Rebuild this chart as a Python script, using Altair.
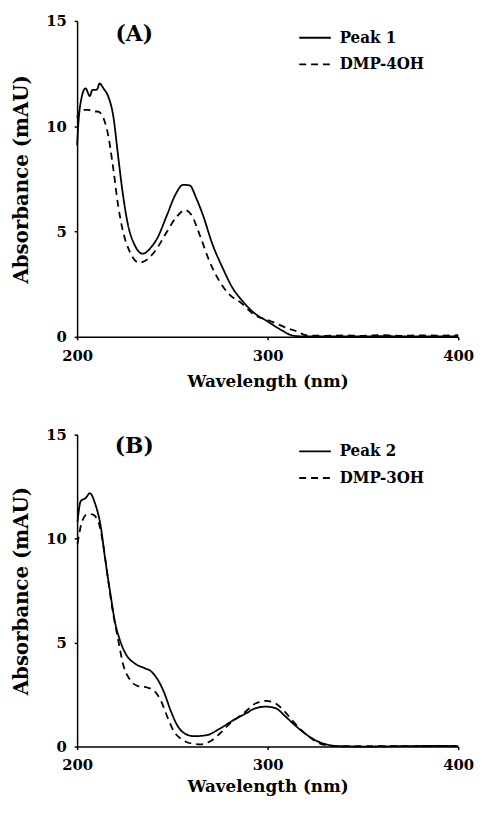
import altair as alt
import pandas as pd

# ---------------- Panel A data ----------------
a_peak_wl = [200, 200.8, 202, 204.4, 206.7, 207.9, 210.4, 211.8, 213.8, 216.4, 219.0, 221.5, 224.1,
             226.7, 230.1, 234.4, 238.6, 242.1, 247.2, 251.4, 255.7, 259.1, 262.6, 266.0, 271.1,
             276.3, 281.4, 286.5, 293.3, 300.2, 307.0, 313.8, 320, 340, 360, 380, 400]
a_peak_ab = [9.1, 10.3, 11.2, 11.8, 11.43, 11.71, 11.74, 12.03, 11.8, 11.4, 10.47, 8.6, 6.72,
             5.32, 4.38, 3.95, 4.23, 4.69, 5.79, 6.72, 7.22, 7.19, 6.57, 5.79, 4.38,
             3.29, 2.35, 1.73, 1.11, 0.72, 0.33, 0.05, 0.02, 0.02, 0.03, 0.02, 0.03]

a_ref_wl = [200, 201.9, 206.2, 207.9, 210.9, 213.8, 216.4, 219.0, 221.5, 224.1, 227.5, 232.6,
            236.9, 242.1, 247.2, 252.3, 256.6, 260.0, 264.3, 269.4, 274.5, 279.6, 286.5, 293.3,
            300.2, 310.4, 315.6, 320, 330, 340, 350, 360, 370, 380, 390, 400]
a_ref_ab = [10.4, 10.78, 10.78, 10.7, 10.7, 10.39, 9.53, 7.97, 6.26, 5.0, 4.07, 3.52,
            3.68, 4.23, 5.0, 5.71, 6.02, 5.79, 4.85, 3.6, 2.67, 2.04, 1.58, 1.03,
            0.8, 0.41, 0.25, 0.08, 0.05, 0.07, 0.05, 0.08, 0.05, 0.07, 0.06, 0.08]

# ---------------- Panel B data ----------------
b_peak_wl = [200.2, 201.9, 204.5, 206.7, 209.6, 212.2, 214.8, 217.4, 219.9, 222.5, 225.9, 230.2,
             235.4, 238.8, 242.3, 245.7, 249.1, 252.6, 256.0, 261.2, 268.0, 274.9, 281.8, 288.7,
             293.8, 299.0, 304.1, 309.3, 314.4, 319.6, 324.7, 329.9, 335.1, 350, 370, 390, 400]
b_peak_ab = [10.8, 11.8, 11.95, 12.18, 11.64, 10.69, 8.96, 7.39, 5.98, 5.11, 4.4, 4.0,
             3.77, 3.62, 3.22, 2.59, 1.73, 1.02, 0.66, 0.50, 0.55, 0.86, 1.26, 1.6,
             1.85, 1.92, 1.85, 1.45, 1.02, 0.63, 0.32, 0.13, 0.03, 0.0, 0.02, 0.03, 0.02]

b_ref_wl = [200.2, 202.7, 205.3, 207.9, 211.3, 213.9, 216.5, 219.1, 221.6, 224.2, 227.7, 232.0,
            237.1, 240.6, 244.0, 247.4, 250.9, 254.3, 259.4, 264.6, 269.7, 274.9, 280.1, 287.0,
            293.8, 299.0, 304.1, 309.3, 314.4, 319.6, 324.7, 329.9, 340, 360, 380, 400]
b_ref_ab = [9.75, 10.85, 11.16, 11.16, 10.77, 9.59, 7.86, 6.29, 5.11, 3.93, 3.22, 2.91,
            2.83, 2.67, 2.20, 1.42, 0.71, 0.39, 0.16, 0.11, 0.24, 0.63, 1.10, 1.57,
            2.08, 2.20, 2.08, 1.65, 1.10, 0.63, 0.28, 0.08, 0.02, 0.02, 0.02, 0.03]

x_ticks = [200, 300, 400]
y_ticks = [0, 5, 10, 15]

FONT = "DejaVu Serif"
F_LEG = "DejaVu Serif Condensed"


def make_df(pairs):
    rows = []
    for name, wl, ab in pairs:
        for i, (w, a) in enumerate(zip(wl, ab)):
            rows.append({"series": name, "wl": w, "ab": a, "order": i})
    return pd.DataFrame(rows)


def panel(pairs, label, tag_y, h, lab_pad, title_pad):
    names = [p[0] for p in pairs]
    df = make_df(pairs)
    lines = alt.Chart(df).mark_line(color="black", strokeWidth=1.8, interpolate="monotone").encode(
        x=alt.X("wl:Q", scale=alt.Scale(domain=[200, 400], nice=False),
                axis=alt.Axis(values=x_ticks, title="Wavelength (nm)",
                              labelPadding=lab_pad, titlePadding=title_pad)),
        y=alt.Y("ab:Q", scale=alt.Scale(domain=[0, 15], nice=False),
                axis=alt.Axis(values=y_ticks, title="Absorbance (mAU)")),
        strokeDash=alt.StrokeDash(
            "series:N",
            scale=alt.Scale(domain=names, range=[[1, 0], [7, 5]]),
            legend=alt.Legend(
                title=None, orient="none", legendX=232, legendY=8,
                symbolType="M-2,0H2", symbolSize=256, symbolStrokeWidth=2,
                symbolStrokeColor="black", labelOffset=16, rowPadding=10,
                labelFont=F_LEG, labelFontSize=17, labelFontWeight="bold",
                labelColor="black", padding=0,
            ),
        ),
        order="order:Q",
    )
    txt = alt.Chart(pd.DataFrame({"t": [label]})).mark_text(
        font=FONT, fontSize=22, fontWeight="bold", color="black",
        align="center", baseline="middle",
    ).encode(x=alt.datum(230), y=alt.datum(tag_y), text="t:N")
    return alt.layer(lines, txt).properties(width=386, height=h)


pa = panel([("Peak 1", a_peak_wl, a_peak_ab), ("DMP-4OH", a_ref_wl, a_ref_ab)], "(A)", 14.38, 320, 9, 10)
pb = panel([("Peak 2", b_peak_wl, b_peak_ab), ("DMP-3OH", b_ref_wl, b_ref_ab)], "(B)", 14.45, 316, 8, 6)

chart = alt.vconcat(pa, pb, spacing=39).resolve_scale(
    strokeDash="independent").resolve_legend(strokeDash="independent").properties(
    padding={"left": 4, "top": 1, "right": 0, "bottom": 0}
).configure_view(stroke=None).configure_axis(
    grid=False, domainColor="black", domainWidth=1.5, tickColor="black", tickWidth=1.5,
    tickSize=3, labelFont=FONT, labelFontSize=15, labelFontWeight="bold", labelColor="black",
    labelFlush=False, titleFont=FONT, titleFontWeight="bold", titleColor="black",
).configure_axisX(titleFontSize=17).configure_axisY(
    titleFontSize=20, titlePadding=14, labelPadding=8)

chart.save("out.html", embed_options={"renderer": "svg", "actions": False})
